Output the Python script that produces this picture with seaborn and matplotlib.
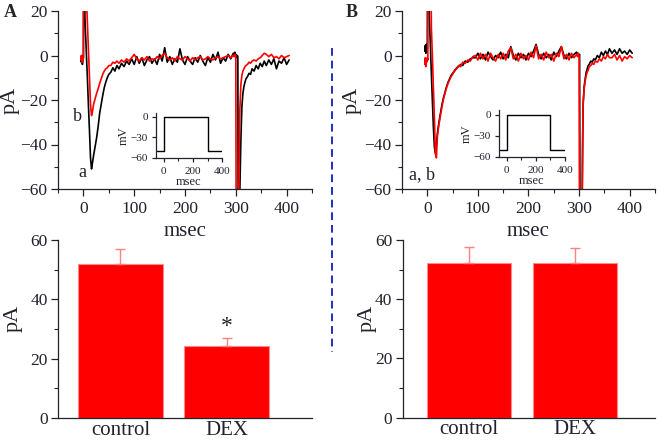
import numpy as np
import pandas as pd
import matplotlib
matplotlib.use("Agg")
import matplotlib.pyplot as plt
from matplotlib.ticker import MultipleLocator
import seaborn as sns

# sampling times of the current traces (msec)
t_ms = [-5, -4, -3, -2, -1, 0, 1, 2, 3, 4, 5, 6,
        8, 10, 12, 14, 16, 18, 20,
        23, 26, 29, 32, 35, 38, 41, 44, 47, 50, 54, 58, 62, 66, 70, 75, 80, 85, 90,
        95, 100, 105, 110, 115, 120, 125, 130, 135, 140, 145, 150, 155, 160, 165, 170,
        175, 180, 185, 190, 195, 200, 205, 210, 215, 220, 225, 230, 235, 240, 245, 250,
        255, 260, 265, 270, 275, 280, 285, 290, 295,
        297, 298, 299, 300, 301, 302, 303, 304, 305, 306, 307, 308,
        310, 312, 314, 316, 318, 320, 323, 326, 329, 332, 336, 340, 344, 348, 352, 356, 360,
        365, 370, 375, 380, 385, 390, 395, 400, 405]

# panel A: a = control (black), b = DEX (red), pA
a_black = [-1, -3, 0, -4, -2, -1, 100, 100, 17, 11, 6, 0,
           -11, -23, -34, -46, -51, -48, -45,
           -41, -37, -32, -26, -22, -18, -14.5, -12, -10, -8.5, -7.5, -5.5, -7, -4.5, -6, -3.5, -5, -2.5, -4,
           -1.5, -4, -0.5, -3.5, -1, -4.5, -2, -0.5, -3.5, -1.5, -4, 0.5, -2.5, 3.5, -3, -0.5,
           -4, -1.5, -3, 3, -2, -4, -0.5, -2.5, -4, -1, -3, 0, -2.5, -4.5, -1, -3,
           0.5, -2, 1.5, -3.5, -1, -2.5, 0.5, -1.5, 1,
           0, 1.5, -0.5, 0.5, 0, -1, 0, -0.5, -100, -100, -100, -60,
           -38, -23, -17, -14, -12, -10.5, -9.5, -8, -8.5, -6, -7, -4.5, -6, -3.5, -5, -2.5, -4.5,
           -2, -4, -1.5, -6, -2.5, -3.5, -1, -4, -2]
a_red = [-2, 0, -3, -1, -2.5, -1, 100, 100, 100, 100, 100, 26,
         14, 2, -10, -22, -27, -25, -22,
         -19.5, -17, -15, -12.5, -10.5, -8.5, -7, -6, -5.5, -4.5, -4.5, -3, -3.5, -2.5, -3.5, -2, -3, -1.5, -2.5,
         -1, 0.5, -1.5, -2.5, -1, -2, -0.5, -2.5, -1.5, -2, -0.5, -1.5, 0, 1, -1, -2,
         -1, -2.5, -0.5, -1.5, -2, -0.5, -1.5, -2.5, -1, -2, -1, -0.5, -2, -1.5, -0.5, -1.5,
         -2, -1, -0.5, -1.5, -1, -0.5, 0, -1, 0,
         -0.5, 0.5, 0, 0, -100, -100, -100, -100, -100, -60, -38, -24,
         -13, -9, -7, -6, -5, -4.5, -4, -3, -3.5, -2.5, -2, -2.5, -1.5, -1, 0, 1, 0.5,
         -0.5, 0.5, -1, -0.5, -1.5, 0, -1, -0.5, 0]

# panel B
b_black = [2, 4.5, 1, 5, 2, 3, 100, 100, 25, 18, 11, 5,
           -8, -20, -32, -41, -44, -40, -35,
           -30, -26, -22, -19, -16.5, -14, -12, -10.5, -9, -8, -7, -5.5, -5, -4, -4.5, -2.5, -3, -1.5, -1,
           -1, 1, -1.5, 0.5, -2, 1.5, -0.5, -2, 0, -1, 1.5, -1.5, 0.5, -1, 4, 0,
           -2, 1, -1, 0.5, -2, 1, -0.5, 2, 5, 0.5, -1.5, 1, -1, 0.5, -2, 1.5,
           -0.5, 2, 4, 0, -1.5, 1, -1, 0.5, 1.5,
           0, 1, 0.5, 0, 0.5, -100, -100, -100, -100, -70, -40, -22,
           -14, -10.5, -7.5, -6, -4.5, -4, -2.5, -3, -1.5, -2, 0, -1, 1.5, 0, 2, 0.5, 3,
           1, 2.5, 0.5, 3, 1, 2, 0.5, 2.5, 1]
b_red = [-4, -1, -5, -2, -3, -1, -2, 100, 100, 100, 100, 100,
         13, 0, -14, -28, -44, -46, -36,
         -31, -27, -23, -19.5, -17, -14.5, -12.5, -11, -9.5, -8.5, -6.5, -6, -4.5, -5, -3, -3.5, -2, -2.5, -0.5,
         0, -2, 1, -1.5, 0.5, -2.5, 1, -1, -2.5, 0.5, -1.5, 1, -2, 2, 3.5, -1.5,
         0.5, -2.5, 1, -1.5, 0, -2, 1.5, -1, 4.5, -1.5, 0.5, -2, 1.5, -1, 0.5, -2.5,
         1, -0.5, 4, -1.5, 0.5, -2, 1, -1, 0.5,
         -0.5, 1, 0, 0, -100, -100, -100, -100, -100, -65, -38, -21,
         -15, -11.5, -9, -7.5, -6.5, -5, -4.5, -3.5, -4, -2.5, -3, -1.5, -2.5, -0.5, -1.5, 0.5, -1,
         -1, 0.5, -2, 0, -2.5, -0.5, -1.5, 0, -1]

# voltage protocol for the insets
step_t = [-48, 0, 0, 300, 300, 400]
step_mv = [-50, -50, 0, 0, -50, -50]

# peak current summary
categories = ["control", "DEX"]
a_mean = [51.9, 24.4]
a_sem = [4.9, 2.7]
b_mean = [52.4, 52.1]
b_sem = [5.1, 5.3]

sns.set_style("ticks")
plt.rcParams['font.family'] = ['Liberation Serif', 'DejaVu Serif']
plt.rcParams['axes.unicode_minus'] = True
ink = "#22222e"

fig = plt.figure(figsize=(6.61, 4.42), dpi=100)
W, H = 661, 442


def box(l, t, r, b):
    return [l / W, (H - b) / H, (r - l) / W, (b - t) / H]


def style(ax, fs=12.5):
    sns.despine(ax=ax)
    for s in ["left", "bottom"]:
        ax.spines[s].set_color(ink)
        ax.spines[s].set_linewidth(0.9)
    ax.tick_params(which="major", direction="out", length=5, width=0.9, colors=ink, labelsize=fs)
    ax.tick_params(which="minor", direction="out", length=3, width=0.8, colors=ink)
    ax.tick_params(axis="y", which="major", pad=2.5)
    ax.patch.set_alpha(0)


def trace_panel(ax, black, red, label_x):
    sns.lineplot(x=t_ms, y=black, ax=ax, color="black", lw=1.2, estimator=None, sort=False)
    sns.lineplot(x=t_ms, y=red, ax=ax, color="#ff0000", lw=1.2, estimator=None, sort=False)
    ax.set_xlim(-50, 450)
    ax.set_ylim(-60, 20)
    ax.set_xticks([0, 100, 200, 300, 400])
    ax.set_yticks([-60, -40, -20, 0, 20])
    ax.xaxis.set_minor_locator(MultipleLocator(50))
    ax.yaxis.set_minor_locator(MultipleLocator(10))
    style(ax)
    ax.set_xlabel("msec", fontsize=15, color=ink)
    ax.set_ylabel("pA", fontsize=16, color=ink)
    ax.xaxis.set_label_coords(0.5, -0.185)
    ax.yaxis.set_label_coords(label_x, 0.5)


def inset(ax):
    sns.lineplot(x=step_t, y=step_mv, ax=ax, color="black", lw=1.0, estimator=None, sort=False)
    ax.set_xlim(-55, 400)
    ax.set_ylim(-60, 6)
    ax.set_xticks([0, 200, 400])
    ax.set_yticks([-60, -30, 0])
    ax.xaxis.set_minor_locator(MultipleLocator(100))
    style(ax, fs=8)
    ax.tick_params(which="major", length=3)
    ax.tick_params(which="minor", length=2)
    ax.set_xlabel("msec", fontsize=9, color=ink, labelpad=0)
    ax.set_ylabel("mV", fontsize=9, color=ink, labelpad=1)


def bar_panel(ax, means, sems, xl, label_x):
    df = pd.DataFrame({"group": categories, "pA": means})
    sns.barplot(data=df, x="group", y="pA", ax=ax, color="#ff0000", saturation=1,
                width=0.8, errorbar=None, edgecolor="#ff8a8a", linewidth=0.8)
    ax.errorbar([0, 1], means, yerr=[[0, 0], sems], fmt="none", ecolor="#ff8080",
                elinewidth=1.0, capsize=3.5, capthick=1.0)
    ax.set_xlim(*xl)
    ax.set_ylim(0, 60)
    ax.set_yticks([0, 20, 40, 60])
    ax.yaxis.set_minor_locator(MultipleLocator(10))
    style(ax)
    ax.tick_params(axis="x", which="both", length=0, labelsize=15, pad=2)
    ax.set_xlabel("")
    ax.set_ylabel("pA", fontsize=16, color=ink)
    ax.yaxis.set_label_coords(label_x, 0.56)


axA = fig.add_axes(box(58, 11, 312, 189))
trace_panel(axA, a_black, a_red, -0.15)
axA.text(-2, -52.5, "a", fontsize=13, ha="center", va="center", color=ink)
axA.text(-12, -27.5, "b", fontsize=13, ha="center", va="center", color=ink)

axB = fig.add_axes(box(402, 11, 655, 189))
trace_panel(axB, b_black, b_red, -0.158)
axB.text(-10, -53.5, "a, b", fontsize=13, ha="center", va="center", color=ink)

insA = fig.add_axes(box(155.7, 112.7, 222.3, 157.7))
inset(insA)
insB = fig.add_axes(box(498.7, 110.5, 565, 156.7))
inset(insB)

barA = fig.add_axes(box(58, 240, 312, 418))
bar_panel(barA, a_mean, a_sem, (-0.587, 1.80), -0.138)
barA.text(1, 27.4, "*", fontsize=17, ha="center", va="bottom", color=ink)

barB = fig.add_axes(box(402.7, 240, 655, 417.7))
bar_panel(barB, b_mean, b_sem, (-0.63, 1.76), -0.102)

fig.text(4 / W, 1 - 4 / H, "A", fontsize=13, fontweight="bold", ha="left", va="top")
fig.text(346 / W, 1 - 4 / H, "B", fontsize=13, fontweight="bold", ha="left", va="top")

fig.add_artist(plt.Line2D([332 / W, 332 / W], [1 - 48 / H, 1 - 352 / H], color="#2030c0",
                          lw=1.4, ls=(0, (4, 2.5))))

fig.savefig("out.png", dpi=100)
